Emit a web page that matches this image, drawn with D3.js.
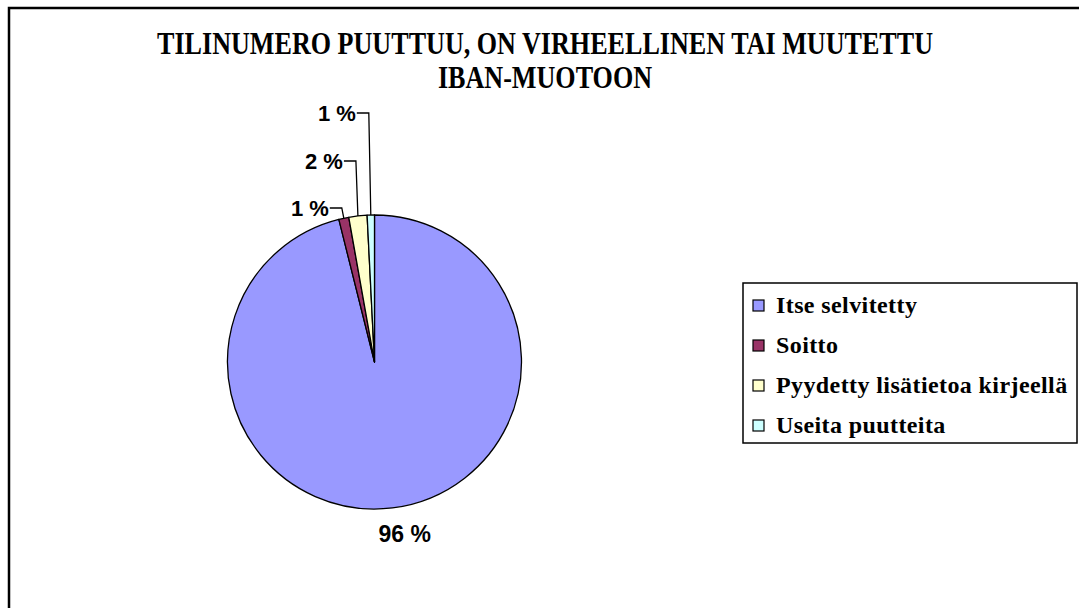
<!DOCTYPE html>
<html>
<head>
<meta charset="utf-8">
<script src="https://cdn.jsdelivr.net/npm/d3@7"></script>
<style>
  body { margin: 0; background: #fff; }
  svg { display: block; }
</style>
</head>
<body>
<div id="chart"></div>
<script>
// data
const categories = ["Itse selvitetty", "Soitto", "Pyydetty lisätietoa kirjeellä", "Useita puutteita"];
const shares = [96.1, 1.1, 2.0, 0.8];
const pctLabels = ["96 %", "1 %", "2 %", "1 %"];
const colors = ["#9999FF", "#993366", "#FFFFCC", "#CCFFFF"];
const titleLines = ["TILINUMERO PUUTTUU, ON VIRHEELLINEN TAI MUUTETTU", "IBAN-MUOTOON"];

const W = 1079, H = 608;
const cx = 374.5, cy = 362, r = 147;
const serif = "'Liberation Serif', 'Times New Roman', Times, serif";
const sans = "'Liberation Sans', Arial, sans-serif";

const svg = d3.select("#chart").append("svg")
    .attr("width", W)
    .attr("height", H);

// chart area border (runs off right / bottom like the source)
svg.append("rect")
    .attr("x", 9).attr("y", 8)
    .attr("width", 1200).attr("height", 800)
    .attr("fill", "none")
    .attr("stroke", "#000")
    .attr("stroke-width", 2.5);

// title, squeezed like the original
const t1 = svg.append("text")
    .attr("x", 545).attr("y", 54)
    .attr("text-anchor", "middle")
    .attr("font-family", serif)
    .attr("font-weight", "bold")
    .attr("font-size", 32)
    .text(titleLines[0]);
const squeeze = 776 / t1.node().getComputedTextLength();
t1.attr("textLength", 776).attr("lengthAdjust", "spacingAndGlyphs");

const t2 = svg.append("text")
    .attr("x", 545).attr("y", 88)
    .attr("text-anchor", "middle")
    .attr("font-family", serif)
    .attr("font-weight", "bold")
    .attr("font-size", 32)
    .text(titleLines[1]);
t2.attr("textLength", t2.node().getComputedTextLength() * squeeze)
    .attr("lengthAdjust", "spacingAndGlyphs");

// pie
const data = categories.map((c, i) => ({name: c, value: shares[i], label: pctLabels[i], color: colors[i]}));

const pie = d3.pie().sort(null).value(d => d.value);
const arcs = pie(data);
const arc = d3.arc().innerRadius(0).outerRadius(r);

const g = svg.append("g").attr("transform", `translate(${cx},${cy})`);

g.selectAll("path.slice")
    .data(arcs)
    .enter().append("path")
    .attr("class", "slice")
    .attr("d", arc)
    .attr("fill", d => d.data.color)
    .attr("stroke", "#000")
    .attr("stroke-width", 1.3)
    .attr("stroke-linejoin", "round");

// data labels
const stackOffset = [0, 7, 54, 102]; // how far above the rim each small label sits

arcs.forEach((a, i) => {
    const mid = (a.startAngle + a.endAngle) / 2;
    if (i === 0) {
        const rr = r + 26;
        g.append("text")
            .attr("x", Math.sin(mid) * rr + 9)
            .attr("y", -Math.cos(mid) * rr + 8)
            .attr("text-anchor", "middle")
            .attr("font-family", sans)
            .attr("font-weight", "bold")
            .attr("font-size", 23)
            .text(a.data.label);
        return;
    }
    const px = Math.sin(mid) * r, py = -Math.cos(mid) * r;
    const ly = -r - stackOffset[i];
    const lx = px - 14;
    g.append("path")
        .attr("d", `M${px},${py} L${px - 2},${ly} L${lx},${ly}`)
        .attr("fill", "none")
        .attr("stroke", "#000")
        .attr("stroke-width", 1.3);
    g.append("text")
        .attr("x", lx - 1)
        .attr("y", ly + 8)
        .attr("text-anchor", "end")
        .attr("font-family", sans)
        .attr("font-weight", "bold")
        .attr("font-size", 22)
        .text(a.data.label);
});

// legend
const legend = svg.append("g").attr("transform", "translate(743,283)");
legend.append("rect")
    .attr("x", 0).attr("y", 0)
    .attr("width", 334).attr("height", 160)
    .attr("fill", "#fff")
    .attr("stroke", "#000")
    .attr("stroke-width", 1.5);

const rowY = d3.scalePoint().domain(categories).range([23, 143]);

const items = legend.selectAll("g.item")
    .data(data)
    .enter().append("g")
    .attr("class", "item")
    .attr("transform", d => `translate(0,${rowY(d.name)})`);

items.append("rect")
    .attr("x", 10).attr("y", -6)
    .attr("width", 11).attr("height", 11)
    .attr("fill", d => d.color)
    .attr("stroke", "#000")
    .attr("stroke-width", 1.2);

items.append("text")
    .attr("x", 33).attr("y", 7)
    .attr("font-family", serif)
    .attr("font-weight", "bold")
    .attr("font-size", 24)
    .attr("letter-spacing", 0.4)
    .text(d => d.name);
</script>
</body>
</html>
